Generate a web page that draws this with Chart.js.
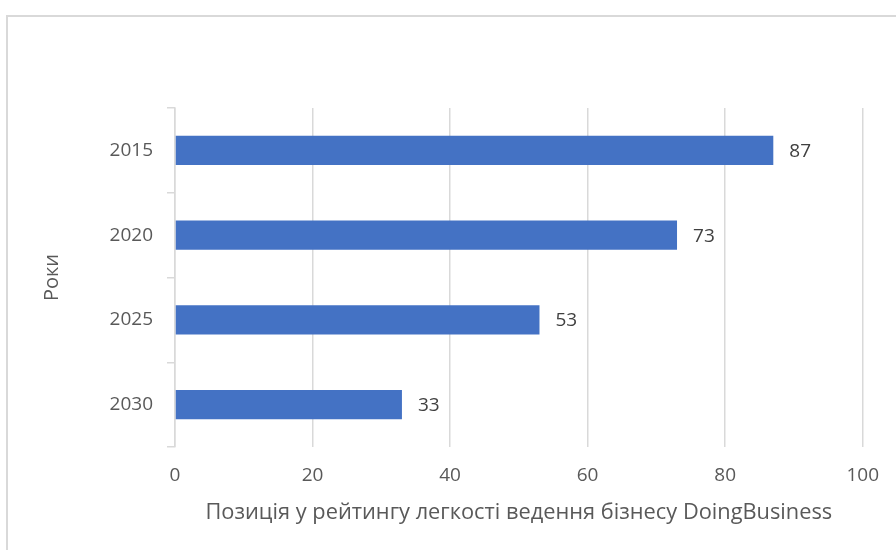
<!DOCTYPE html>
<html>
<head>
<meta charset="utf-8">
<script src="https://cdn.jsdelivr.net/npm/chart.js@4.4.0/dist/chart.umd.min.js"></script>
<style>
    html, body { margin: 0; padding: 0; background: #fff; overflow: hidden; }
    #frame { position: absolute; left: 6px; top: 15px; width: 1000px; height: 700px; border: 2px solid #d9d9d9; box-sizing: border-box; }
    #chart { position: absolute; left: 0; top: 0; }
</style>
</head>
<body>
<div id="frame"></div>
<canvas id="chart" width="896" height="550"></canvas>
<script>
let years = ['2015', '2020', '2025', '2030'];
let positions = [87, 73, 53, 33];
let x_ticks = [0, 20, 40, 60, 80, 100];

let colors = {
    bar: '#4472C4',
    grid: '#d9d9d9',
    text: '#595959',
    label: '#404040'
}

let font_family = '"Open Sans", sans-serif';

// value labels at the end of each bar
let bar_labels = {
    id: 'barLabels',
    afterDatasetsDraw(chart) {
        let ctx = chart.ctx;
        ctx.save();
        ctx.font = '19px ' + font_family;
        ctx.fillStyle = colors.label;
        ctx.textAlign = 'left';
        ctx.textBaseline = 'middle';
        chart.getDatasetMeta(0).data.forEach((bar, i) => {
            ctx.fillText(String(positions[i]), bar.x + 16, bar.y + 1);
        });
        ctx.restore();
    }
}

let data = {
    labels: years,
    datasets: [
        {
            data: positions,
            backgroundColor: colors.bar,
            borderWidth: 0,
            categoryPercentage: 1,
            barPercentage: 0.345
        }
    ]
}

let options = {
    indexAxis: 'y',
    responsive: false,
    animation: false,
    layout: {
        padding: {left: 6, top: 108, right: 32, bottom: 0}
    },
    plugins: {
        legend: {display: false},
        tooltip: {enabled: false}
    },
    scales: {
        x: {
            min: 0,
            max: 100,
            afterBuildTicks: scale => { scale.ticks = x_ticks.map(v => ({value: v})); },
            afterFit: scale => { scale.height = 103; },
            grid: {
                color: colors.grid,
                lineWidth: 1.5,
                drawTicks: false
            },
            border: {display: false},
            ticks: {
                color: colors.text,
                font: {family: font_family, size: 19},
                padding: 17
            },
            title: {
                display: true,
                text: 'Позиція у рейтингу легкості ведення бізнесу DoingBusiness',
                color: colors.text,
                font: {family: font_family, size: 21.8},
                padding: {top: 0, bottom: 24}
            }
        },
        y: {
            afterFit: scale => { scale.width = 169; },
            grid: {
                color: colors.grid,
                lineWidth: 1.5,
                drawOnChartArea: false,
                drawTicks: true,
                tickLength: 8
            },
            border: {display: true, color: colors.grid, width: 1.5},
            ticks: {
                color: colors.text,
                font: {family: font_family, size: 19},
                padding: 14
            },
            title: {
                display: true,
                text: 'Роки',
                color: colors.text,
                font: {family: font_family, size: 20},
                padding: {top: 34, bottom: 0}
            }
        }
    }
}

new Chart(document.getElementById('chart').getContext('2d'), {
    type: 'bar',
    data: data,
    options: options,
    plugins: [bar_labels]
});
</script>
</body>
</html>
